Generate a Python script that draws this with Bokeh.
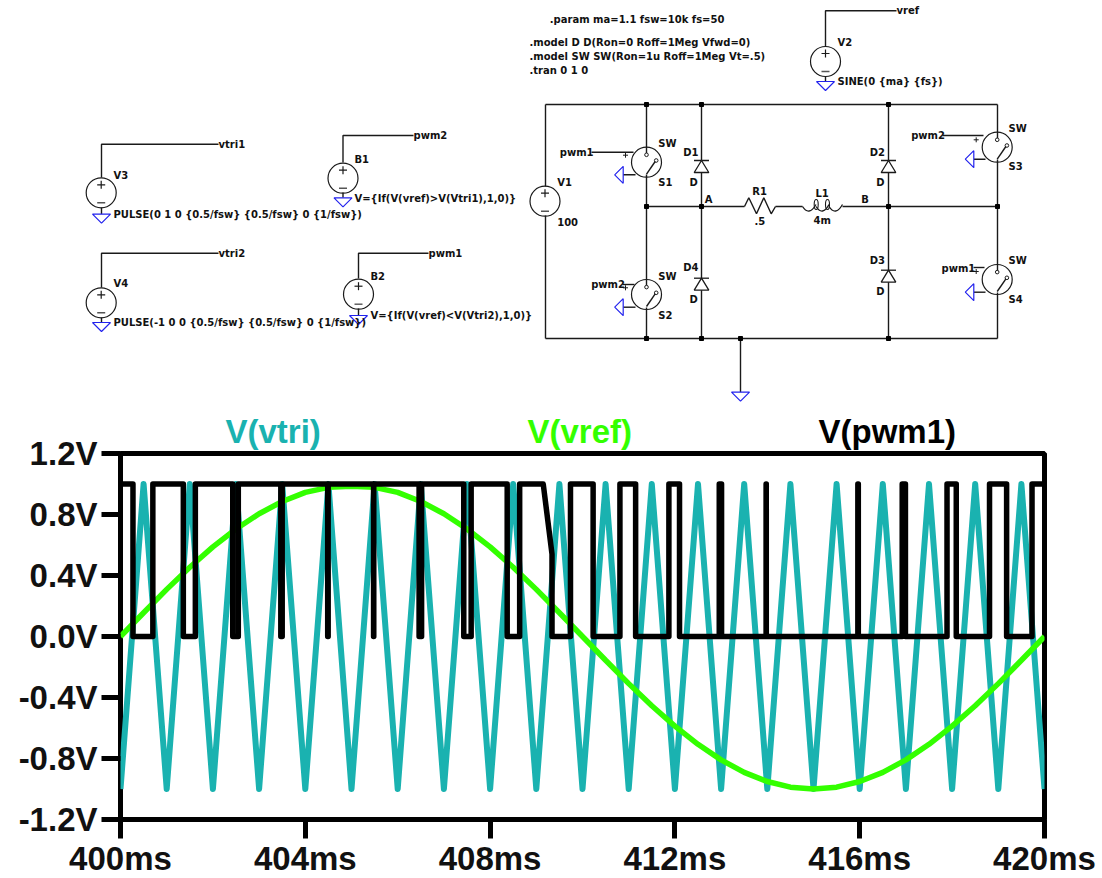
from bokeh.plotting import figure
from bokeh.layouts import column
from bokeh.models import FixedTicker, PrintfTickFormatter, Range1d
from bokeh.core.properties import value
from bokeh.embed import file_html
from bokeh.resources import INLINE

# ---------- chart data (time in ms, volts) ----------
vtri_t = [400, 400.5, 401, 401.5, 402, 402.5, 403, 403.5, 404, 404.5, 405, 405.5, 406, 406.5,
          407, 407.5, 408, 408.5, 409, 409.5, 410, 410.5, 411, 411.5, 412, 412.5, 413, 413.5,
          414, 414.5, 415, 415.5, 416, 416.5, 417, 417.5, 418, 418.5, 419, 419.5, 420]
vtri_v = [-1, 1, -1, 1, -1, 1, -1, 1, -1, 1, -1, 1, -1, 1,
          -1, 1, -1, 1, -1, 1, -1, 1, -1, 1, -1, 1, -1, 1,
          -1, 1, -1, 1, -1, 1, -1, 1, -1, 1, -1, 1, -1]
vref_t = vtri_t
vref_v = [0, 0.156, 0.309, 0.454, 0.588, 0.705, 0.805, 0.885, 0.945, 0.978, 0.985, 0.978, 0.945, 0.885,
          0.805, 0.705, 0.588, 0.454, 0.309, 0.156, 0, -0.156, -0.309, -0.454, -0.588, -0.707, -0.809, -0.891,
          -0.951, -0.988, -1.0, -0.988, -0.951, -0.891, -0.809, -0.707, -0.588, -0.454, -0.309, -0.156, 0]
pwm_t = [400, 400.27, 400.27, 400.70, 400.70, 401.36, 401.36, 401.62, 401.62, 402.43, 402.43, 402.55, 402.55,
         403.47, 403.47, 403.50, 403.50, 404.485, 404.485, 404.495, 404.495, 405.478, 405.478, 405.482, 405.482,
         406.463, 406.463, 406.517, 406.517, 407.43, 407.43, 407.59, 407.59, 408.37, 408.37, 408.64, 408.64,
         409.15, 409.34, 409.34, 409.74, 409.74, 410.23, 410.23, 410.81, 410.81, 411.15, 411.15, 411.87,
         411.87, 412.10, 412.10, 412.96, 412.96, 413.01, 413.01, 413.974, 413.974, 413.978, 413.978, 415.96,
         415.96, 415.97, 415.97, 416.92, 416.92, 416.99, 416.99, 417.89, 417.89, 418.09, 418.09, 418.81,
         418.81, 419.18, 419.18, 419.73, 419.73, 420]
pwm_v = [1, 1, 0, 0, 1, 1, 0, 0, 1, 1, 0, 0, 1,
         1, 0, 0, 1, 1, 0, 0, 1, 1, 0, 0, 1,
         1, 0, 0, 1, 1, 0, 0, 1, 1, 0, 0, 1,
         1, 0.54, 0, 0, 1, 1, 0, 0, 1, 1, 0, 0,
         1, 1, 0, 0, 1, 1, 0, 0, 1, 1, 0, 0,
         1, 1, 0, 0, 1, 1, 0, 0, 1, 1, 0, 0,
         1, 1, 0, 0, 1, 1]
y_ticks = [-1.2, -0.8, -0.4, 0.0, 0.4, 0.8, 1.2]
x_ticks = [400, 404, 408, 412, 416, 420]
trace_names = ["V(vtri)", "V(vref)", "V(pwm1)"]
trace_colours = ["#1ab2b0", "#33ff00", "black"]
trace_name_x = [225, 527, 818]
trace_name_y = [431, 431, 431]

# ---------- schematic (drawn on a 1:1 sheet) ----------
wires = [
    [(545, 104), (997, 104)], [(545, 104), (545, 186)], [(545, 215), (545, 338)], [(545, 338), (997, 338)],
    [(646, 104), (646, 154)], [(646, 174), (646, 287)], [(646, 307), (646, 338)],
    [(701, 104), (701, 338)], [(888, 104), (888, 338)],
    [(646, 206), (744, 206)], [(775, 206), (802, 206)], [(842, 206), (997, 206)],
    [(997, 104), (997, 139)], [(997, 159), (997, 272)], [(997, 292), (997, 338)],
    [(740, 338), (740, 392)],
    [(591, 151.7), (633, 151.7)], [(622, 284), (634, 284)], [(942, 135), (983, 135)], [(973, 267), (984, 267)],
    [(622.7, 174.3), (635, 174.3)], [(622.7, 306.7), (635, 306.7)], [(973.3, 158.7), (985, 158.7)], [(973.3, 291.7), (985, 291.7)],
    [(101, 177), (101, 143.7), (218, 143.7)], [(101, 207), (101, 213.7)],
    [(342.5, 162), (342.5, 135), (413, 135)], [(342.5, 192), (342.5, 197.3)],
    [(101, 287), (101, 252.7), (218, 252.7)], [(101, 317), (101, 322)],
    [(358, 278), (358, 252.7), (428, 252.7)], [(358, 308), (358, 315)],
    [(825, 46), (825, 10.3), (896, 10.3)], [(825, 76), (825, 81)],
    [(744, 206), (748.3, 197.3), (756, 213.3), (763.3, 197.3), (770.7, 213.3), (775, 206)],
]
source_x = [100.7, 342.5, 100.7, 358, 825, 544.5]
source_y = [192.3, 177.7, 302.3, 293.7, 61, 200.7]
switch_x = [646, 646, 996.7, 996.7]
switch_y = [161.7, 294, 146.7, 279]
node_x = [646, 701, 888, 646, 701, 888, 997, 646, 701, 740, 888]
node_y = [104, 104, 104, 206, 206, 206, 206, 338, 338, 338, 338]
diode_x = [701, 888, 701, 888]
diode_y = [160, 160, 277.7, 269.7]
ground_down = [(101, 213.7), (342.5, 197.3), (101, 322), (358, 315), (825, 81), (740, 391.7)]
ground_left = [(622.7, 174.3), (622.7, 306.7), (973.3, 158.7), (973.3, 291.7)]
inductor_x = [802, 815.5, 828.5]
inductor_end_x = [815.5, 828.5, 842]
loop_x = [815.7, 827]
texts = [
    (218, 143.7, "vtri1"), (413, 135, "pwm2"), (218, 253, "vtri2"), (428, 253, "pwm1"), (896, 10, "vref"),
    (113, 175, "V3"), (354, 159, "B1"), (113, 283, "V4"), (370, 276, "B2"), (837, 41.7, "V2"), (556.7, 182.3, "V1"),
    (556.7, 221, "100"),
    (113, 214, "PULSE(0 1 0 {0.5/fsw} {0.5/fsw} 0 {1/fsw})"),
    (113, 322, "PULSE(-1 0 0 {0.5/fsw} {0.5/fsw} 0 {1/fsw})"),
    (354, 197.7, "V={If(V(vref)>V(Vtri1),1,0)}"),
    (370, 315, "V={If(V(vref)<V(Vtri2),1,0)}"),
    (837, 81.3, "SINE(0 {ma} {fs})"),
    (549.3, 19, ".param ma=1.1 fsw=10k fs=50"),
    (529, 41.7, ".model D D(Ron=0 Roff=1Meg Vfwd=0)"),
    (529, 56.3, ".model SW SW(Ron=1u Roff=1Meg Vt=.5)"),
    (529, 69.7, ".tran 0 1 0"),
    (559.3, 151.7, "pwm1"), (590.7, 284, "pwm2"), (910.7, 135, "pwm2"), (941, 267.7, "pwm1"),
    (657.7, 143.3, "SW"), (657.7, 182.3, "S1"), (657.7, 276, "SW"), (657.7, 315, "S2"),
    (1008, 127.7, "SW"), (1008, 166, "S3"), (1008, 260, "SW"), (1008, 299, "S4"),
    (682.7, 151.7, "D1"), (689, 182.3, "D"), (869.3, 151.7, "D2"), (875.7, 182.3, "D"),
    (682.7, 267.3, "D4"), (689, 299, "D"), (869.3, 260, "D3"), (875.7, 291, "D"),
    (704.3, 199.3, "A"), (860.7, 199, "B"), (751.7, 190.7, "R1"), (754, 220, ".5"), (815, 192.7, "L1"), (813, 220, "4m"),
]
plus_signs = [(625, 154.7), (625, 287.3), (975.7, 139.3), (975.7, 271)]

INK = "#1a1a1a"
BLUE = "#2222ee"

# sheet covers the top of the image, in picture pixels; it runs under the plot's empty top border
sheet = figure(width=1102, height=452, x_range=Range1d(0, 1102), y_range=Range1d(452, 0),
               output_backend="svg", toolbar_location=None, min_border=0, frame_align=False,
               margin=(0, 0, -22, 0))
sheet.axis.visible = False
sheet.grid.visible = False
sheet.outline_line_color = None

for w in wires:
    sheet.line([q[0] for q in w], [q[1] for q in w], line_color=INK, line_width=1.4)

sheet.circle(source_x, source_y, radius=15, fill_color=None, line_color=INK, line_width=1.2)
sheet.circle(switch_x, switch_y, radius=15, fill_color=None, line_color=INK, line_width=1.2)
for x, y in zip(source_x, source_y):
    sheet.line([x - 4, x + 4], [y - 8, y - 8], line_color=INK, line_width=1.2)
    sheet.line([x, x], [y - 12, y - 4], line_color=INK, line_width=1.2)
    sheet.line([x - 4, x + 4], [y + 10, y + 10], line_color="#555555", line_width=1.4)
for x, y in zip(switch_x, switch_y):
    sheet.circle([x, x + 9.7], [y - 7.4, y - 1.7], radius=1.8, fill_color="white", line_color=INK, line_width=1)
    sheet.line([x + 8.7, x], [y - 0.7, y + 12], line_color=INK, line_width=1.4)
for x, y in plus_signs:
    sheet.line([x - 2.5, x + 2.5], [y, y], line_color=INK, line_width=1)
    sheet.line([x, x], [y - 2.5, y + 2.5], line_color=INK, line_width=1)
sheet.rect(node_x, node_y, width=4, height=4, fill_color="black", line_color="black")
for x, y in zip(diode_x, diode_y):
    sheet.line([x - 7.5, x + 7.5], [y, y], line_color=INK, line_width=1.3)
    sheet.patch([x, x - 7.3, x + 7.3], [y, y + 12, y + 12], fill_color="white", line_color=INK, line_width=1.3)
for x, y in ground_down:
    sheet.patch([x - 9, x + 9, x], [y, y, y + 9], fill_color="white", line_color=BLUE, line_width=1.2)
for x, y in ground_left:
    sheet.patch([x, x, x - 8.5], [y - 8.5, y + 8.5, y], fill_color="white", line_color=BLUE, line_width=1.2)
sheet.quadratic(inductor_x, [206] * 3, inductor_end_x, [204] * 3, [808.5, 822, 835], [216, 216, 216],
                line_color=INK, line_width=1.3)
sheet.ellipse(loop_x, [204, 204], width=4, height=10, fill_color=None, line_color=INK, line_width=1.1)
sheet.text([t[0] for t in texts], [t[1] for t in texts], text=[t[2] for t in texts],
           text_font=value("DejaVu Sans"), text_font_style="bold", text_font_size="10px",
           text_color="#111111", text_align="left", text_baseline="middle")
sheet.text(trace_name_x, trace_name_y, text=trace_names, text_color=trace_colours,
           text_font=value("Liberation Sans"), text_font_style="bold", text_font_size="33px",
           text_align="left", text_baseline="middle")

# plot pane
plot = figure(width=1102, height=448, x_range=Range1d(400, 420), y_range=Range1d(-1.2, 1.2),
              output_backend="svg", toolbar_location=None, frame_align=False,
              frame_width=924, frame_height=366, min_border_left=120, min_border_right=58,
              min_border_top=23, min_border_bottom=59, border_fill_color=None)
plot.grid.visible = False
plot.outline_line_color = "black"
plot.outline_line_width = 5
plot.line(vtri_t, vtri_v, line_color="#1ab2b0", line_width=6, line_join="round")
plot.line(vref_t, vref_v, line_color="#33ff00", line_width=5.5)
plot.line(pwm_t, pwm_v, line_color="black", line_width=5.5, line_join="round")

plot.xaxis.ticker = FixedTicker(ticks=x_ticks)
plot.yaxis.ticker = FixedTicker(ticks=y_ticks)
plot.xaxis.formatter = PrintfTickFormatter(format="%dms")
plot.yaxis.formatter = PrintfTickFormatter(format="%.1fV")
for ax in (plot.xaxis, plot.yaxis):
    ax.major_label_text_font = "Liberation Sans"
    ax.major_label_text_font_style = "bold"
    ax.major_label_text_font_size = "33px"
    ax.major_label_text_color = "#111111"
    ax.major_tick_in = 0
    ax.major_tick_out = 19
    ax.major_tick_line_color = "black"
    ax.major_tick_line_width = 5
    ax.minor_tick_line_color = None
    ax.axis_line_color = None
plot.yaxis.major_label_standoff = 4
plot.xaxis.major_label_standoff = 1

page = column(sheet, plot, spacing=0)
open("out.html", "w").write(file_html(page, INLINE))
